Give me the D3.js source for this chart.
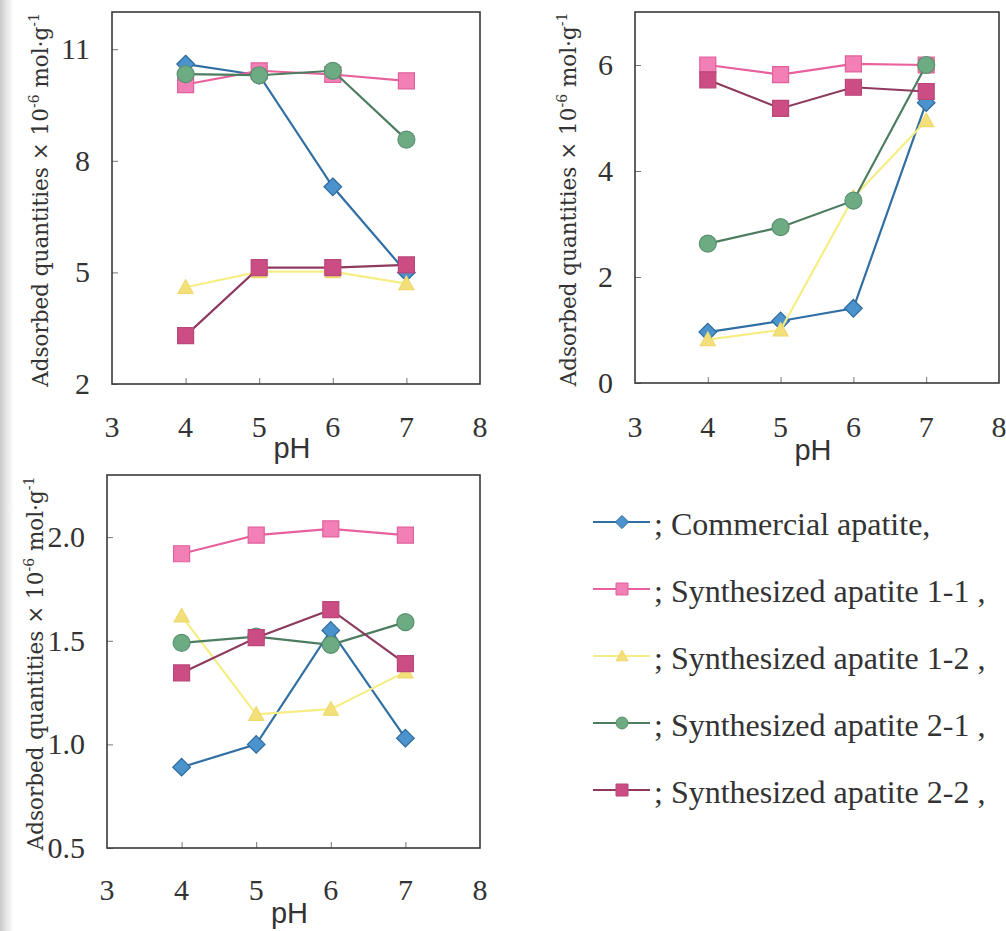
<!DOCTYPE html>
<html>
<head>
<meta charset="utf-8">
<script src="https://cdn.jsdelivr.net/npm/d3@7"></script>
<style>
  html, body { margin: 0; padding: 0; background: #fff; }
  svg { display: block; }
</style>
</head>
<body>
<svg id="chart" width="1006" height="931"></svg>
<script>
// pH values shared by every panel
const phValues = [4, 5, 6, 7];
const xTicks = [3, 4, 5, 6, 7, 8];

// series names as shown in the legend
const seriesLabels = [
  "; Commercial apatite,",
  "; Synthesized apatite 1-1 ,",
  "; Synthesized apatite 1-2 ,",
  "; Synthesized apatite 2-1 ,",
  "; Synthesized apatite 2-2 ,"
];

// adsorbed quantities (×10⁻⁶ mol·g⁻¹), panel 1 (upper left)
const p1Commercial = [10.6, 10.3, 7.3, 5.0];
const p1Synth11 = [10.05, 10.42, 10.32, 10.15];
const p1Synth12 = [4.6, 5.02, 5.02, 4.7];
const p1Synth21 = [10.33, 10.3, 10.42, 8.57];
const p1Synth22 = [3.3, 5.13, 5.13, 5.2];
const p1YTicks = [2, 5, 8, 11];

// panel 2 (upper right)
const p2Commercial = [0.96, 1.17, 1.41, 5.29];
const p2Synth11 = [6.0, 5.82, 6.02, 6.0];
const p2Synth12 = [0.82, 1.0, 3.5, 4.95];
const p2Synth21 = [2.63, 2.94, 3.44, 6.0];
const p2Synth22 = [5.72, 5.18, 5.58, 5.5];
const p2YTicks = [0, 2, 4, 6];

// panel 3 (lower left)
const p3Commercial = [0.89, 1.0, 1.55, 1.03];
const p3Synth11 = [1.92, 2.01, 2.04, 2.01];
const p3Synth12 = [1.62, 1.145, 1.17, 1.35];
const p3Synth21 = [1.49, 1.52, 1.48, 1.59];
const p3Synth22 = [1.345, 1.515, 1.65, 1.39];
const p3YTicks = ["0.5", "1.0", "1.5", "2.0"];

// drawing styles per series
const seriesStyle = [
  { shape: "diamond",  line: "#2f6fa3", fill: "#4b93cc", edge: "#2d6a9e" },
  { shape: "square",   line: "#e8609c", fill: "#f27fb6", edge: "#e0609c" },
  { shape: "triangle", line: "#f6ee84", fill: "#f3e07a", edge: "#efd86c" },
  { shape: "circle",   line: "#4d7d60", fill: "#6dab82", edge: "#5a9070" },
  { shape: "square",   line: "#8e3a5e", fill: "#cc4d83", edge: "#b8477a" }
];

const panels = [
  { box: [112, 12, 480, 384], yDomain: [2, 12], yTicks: p1YTicks, fmt: d3.format("d"),
    series: [p1Commercial, p1Synth11, p1Synth12, p1Synth21, p1Synth22], tickBase: 437, phBase: 458, titleX: 48 },
  { box: [635, 12, 999, 383], yDomain: [0, 7], yTicks: p2YTicks, fmt: d3.format("d"),
    series: [p2Commercial, p2Synth11, p2Synth12, p2Synth21, p2Synth22], tickBase: 437, phBase: 460, titleX: 576 },
  { box: [107, 475, 480, 848], yDomain: [0.5, 2.3], yTicks: p3YTicks.map(Number), fmt: d3.format(".1f"),
    series: [p3Commercial, p3Synth11, p3Synth12, p3Synth21, p3Synth22], tickBase: 900, phBase: 923, titleX: 43 }
];

const svg = d3.select("#chart");

// faint grey shading down the left margin
const defs = svg.append("defs");
const grad = defs.append("linearGradient").attr("id", "edgeShade").attr("x1", 0).attr("x2", 1);
grad.append("stop").attr("offset", 0).attr("stop-color", "#c9c9c9");
grad.append("stop").attr("offset", 0.5).attr("stop-color", "#e8e8e8");
grad.append("stop").attr("offset", 1).attr("stop-color", "#ffffff");
svg.append("rect").attr("x", 0).attr("y", 0).attr("width", 14).attr("height", 931).attr("fill", "url(#edgeShade)");

const textColor = "#333";
const frameColor = "#3a3a3a";

function markerPath(shape, size) {
  const h = size / 2;
  if (shape === "diamond") return `M0,${-h * 1.1}L${h * 1.1},0L0,${h * 1.1}L${-h * 1.1},0Z`;
  if (shape === "square") return `M${-h},${-h}H${h}V${h}H${-h}Z`;
  if (shape === "triangle") return `M0,${-h}L${h},${h * 0.8}L${-h},${h * 0.8}Z`;
  return d3.symbol(d3.symbolCircle, Math.PI * h * h)();
}

panels.forEach(p => {
  const [x0, y0, x1, y1] = p.box;
  const x = d3.scaleLinear().domain([3, 8]).range([x0, x1]);
  const y = d3.scaleLinear().domain(p.yDomain).range([y1, y0]);
  const g = svg.append("g");

  // inward ticks on the left and bottom edges
  const yAxis = d3.axisRight(y).tickValues(p.yTicks).tickSize(6).tickFormat("");
  g.append("g").attr("transform", `translate(${x0},0)`).call(yAxis)
    .call(s => s.select(".domain").remove())
    .call(s => s.selectAll("line").attr("stroke", "#777").attr("stroke-width", 1));
  const xAxis = d3.axisTop(x).tickValues(phValues).tickSize(6).tickFormat("");
  g.append("g").attr("transform", `translate(0,${y1})`).call(xAxis)
    .call(s => s.select(".domain").remove())
    .call(s => s.selectAll("line").attr("stroke", "#777").attr("stroke-width", 1));

  // tick labels
  g.selectAll(".ylab").data(p.yTicks).join("text")
    .attr("x", x0 - 22).attr("y", d => y(d) + 10)
    .attr("text-anchor", "end")
    .attr("font-family", "Liberation Serif, Times New Roman, serif")
    .attr("font-size", 30).attr("fill", textColor)
    .text(d => p.fmt(d));
  g.selectAll(".xlab").data(xTicks).join("text")
    .attr("x", d => x(d)).attr("y", p.tickBase)
    .attr("text-anchor", "middle")
    .attr("font-family", "Liberation Serif, Times New Roman, serif")
    .attr("font-size", 30).attr("fill", textColor)
    .text(d => d);

  // axis titles
  g.append("text")
    .attr("x", (x0 + x1) / 2 - 4).attr("y", p.phBase)
    .attr("text-anchor", "middle")
    .attr("font-family", "Liberation Sans, Arial, sans-serif")
    .attr("font-size", 29).attr("fill", textColor)
    .text("pH");

  const yt = g.append("text")
    .attr("transform", `translate(${p.titleX},${(y0 + y1) / 2 + 2}) rotate(-90)`)
    .attr("text-anchor", "middle")
    .attr("font-family", "DejaVu Serif, serif")
    .attr("font-size", 21.5).attr("fill", textColor);
  yt.append("tspan").text("Adsorbed quantities × 10");
  yt.append("tspan").attr("dy", -9).attr("font-size", 14).text("-6");
  yt.append("tspan").attr("dy", 9).text(" mol·g");
  yt.append("tspan").attr("dy", -9).attr("font-size", 14).text("-1");

  // series lines and markers
  p.series.forEach((vals, i) => {
    const st = seriesStyle[i];
    const pts = phValues.map((ph, k) => [x(ph), y(vals[k])]);
    g.append("path")
      .attr("d", d3.line()(pts))
      .attr("fill", "none").attr("stroke", st.line).attr("stroke-width", 2.2);
    g.selectAll(null).data(pts).join("path")
      .attr("transform", d => `translate(${d[0]},${d[1]})`)
      .attr("d", markerPath(st.shape, st.shape === "circle" ? 17 : st.shape === "triangle" ? 15 : 16))
      .attr("fill", st.fill).attr("stroke", st.edge).attr("stroke-width", 1.2);
  });

  // frame
  g.append("rect")
    .attr("x", x0).attr("y", y0).attr("width", x1 - x0).attr("height", y1 - y0)
    .attr("fill", "none").attr("stroke", frameColor).attr("stroke-width", 1.6);
});

// legend
const legend = svg.append("g");
const legendRows = [535, 602, 669, 736, 803];
seriesLabels.forEach((label, i) => {
  const st = seriesStyle[i];
  const by = legendRows[i];
  const cy = by - 13;
  legend.append("line")
    .attr("x1", 593).attr("x2", 650).attr("y1", cy).attr("y2", cy)
    .attr("stroke", st.line).attr("stroke-width", 2);
  legend.append("path")
    .attr("transform", `translate(622,${cy})`)
    .attr("d", markerPath(st.shape, 12))
    .attr("fill", st.fill).attr("stroke", st.edge).attr("stroke-width", 1);
  legend.append("text")
    .attr("x", 654).attr("y", by)
    .attr("font-family", "Liberation Serif, Times New Roman, serif")
    .attr("font-size", 32).attr("fill", textColor)
    .text(label);
});
</script>
</body>
</html>
